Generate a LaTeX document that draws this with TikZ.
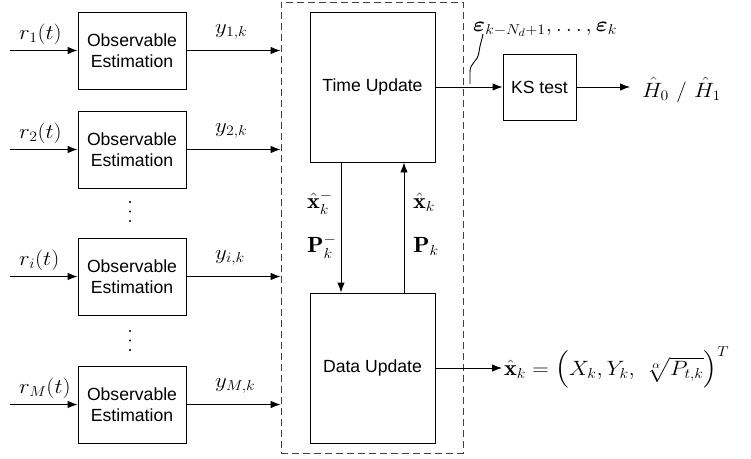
\documentclass[tikz,border=0pt]{standalone}
\usepackage{amsmath}
\usepackage{bm}
\usepackage{graphicx}
\usepackage{fontspec}
\setsansfont{Liberation Sans}
\usetikzlibrary{arrows.meta}
\newcommand{\mlab}[1]{\scalebox{1.1}[1]{$#1$}}
\begin{document}
\begin{tikzpicture}[x=1pt,y=-1pt,
  box/.style={draw, line width=0.9pt, inner sep=0pt, align=center,
    font=\fontsize{17.6}{21.5}\selectfont\sffamily},
  obs/.style={box, minimum width=108pt, minimum height=77pt},
  upd/.style={box, minimum width=125pt, minimum height=150pt},
  lab/.style={inner sep=0pt, font=\fontsize{22}{26}\selectfont},
  arr/.style={-{Latex[length=10pt,width=7.5pt]}, line width=0.9pt},
  dashbox/.style={draw=black!75, line width=0.9pt, dash pattern=on 7pt off 4pt, inner sep=0pt}
]
\useasboundingbox (0,0) rectangle (751,458);

% dashed Kalman filter frame
\node[dashbox, minimum width=182pt, minimum height=451pt] (kf) at (372,227.5) {};

% observable estimation boxes
\node[obs] (ob1) at (132,50.5) {Observable\\Estimation};
\node[obs] (ob2) at (132,149.5) {Observable\\Estimation};
\node[obs] (obi) at (132,276.5) {Observable\\Estimation};
\node[obs] (obm) at (132,404.5) {Observable\\Estimation};

% inputs
\coordinate (in1) at (10,50.5);
\coordinate (in2) at (10,149.5);
\coordinate (ini) at (10,276.5);
\coordinate (inm) at (10,404.5);
\draw[arr] (in1) -- (ob1.west);
\draw[arr] (in2) -- (ob2.west);
\draw[arr] (ini) -- (obi.west);
\draw[arr] (inm) -- (obm.west);

\node[lab, anchor=base west] (r1) at (19,39) {\mlab{r_1(t)}};
\node[lab, anchor=base west] (r2) at (19,138) {\mlab{r_2(t)}};
\node[lab, anchor=base west] (ri) at (19,265) {\mlab{r_i(t)}};
\node[lab, anchor=base west] (rm) at (19,393) {\mlab{r_M(t)}};

% outputs to filter
\draw[arr] (ob1.east) -- (ob1.east -| kf.west);
\draw[arr] (ob2.east) -- (ob2.east -| kf.west);
\draw[arr] (obi.east) -- (obi.east -| kf.west);
\draw[arr] (obm.east) -- (obm.east -| kf.west);

\node[lab, anchor=base west] (y1) at (215,33) {\mlab{y_{1,k}}};
\node[lab, anchor=base west] (y2) at (215,132) {\mlab{y_{2,k}}};
\node[lab, anchor=base west] (yi) at (215,259) {\mlab{y_{i,k}}};
\node[lab, anchor=base west] (ym) at (215,387) {\mlab{y_{M,k}}};

% dots
\foreach \yy in {202,211.5,221,331,340.5,350}
  \fill (130,\yy) circle (1.1pt);

% Kalman filter blocks
\node[upd] (tu) at (372.5,87) {Time Update};
\node[upd] (du) at (372.5,368) {Data Update};

\coordinate (dnx) at (341,0);
\coordinate (upx) at (404,0);
\draw[arr] (tu.south -| dnx) -- (du.north -| dnx);
\draw[arr] (du.north -| upx) -- (tu.south -| upx);

\node[lab, anchor=base west] (xm) at (307,208) {\mlab{\hat{\mathbf{x}}_k^-}};
\node[lab, anchor=base west] (pm) at (307,252) {\mlab{\mathbf{P}_k^-}};
\node[lab, anchor=base west] (xp) at (413,208) {\mlab{\hat{\mathbf{x}}_k}};
\node[lab, anchor=base west] (pp) at (413,252) {\mlab{\mathbf{P}_k}};

% KS test
\node[box, minimum width=73pt, minimum height=66pt] (ks) at (539.5,87) {KS test};
\draw[arr] (tu.east) -- (ks.west);
\coordinate (hout) at (630,87);
\draw[arr] (ks.east) -- (hout);
\node[lab, anchor=base west] (hlab) at (642,97) {\mlab{\hat{H}_0\ /\ \hat{H}_1}};

% residual label with squiggle
\node[lab, anchor=base west] (eps) at (473,31) {\mlab{\bm{\varepsilon}_{k-N_d+1},\ldots,\bm{\varepsilon}_k}};
\draw[line width=0.9pt] (470,84) -- (470,72) .. controls (470,62) and (478,62) .. (479,52) .. controls (480,44) and (482,40) .. (483,34);

% data update output
\coordinate (xout) at (502,368);
\draw[arr] (du.east) -- (xout);
\node[lab, anchor=base west] (xlab) at (504,375) {\mlab{\hat{\mathbf{x}}_k = \Bigl(X_k, Y_k,\ \sqrt[\alpha]{P_{t,k}}\Bigr)^T}};
\end{tikzpicture}
\end{document}
